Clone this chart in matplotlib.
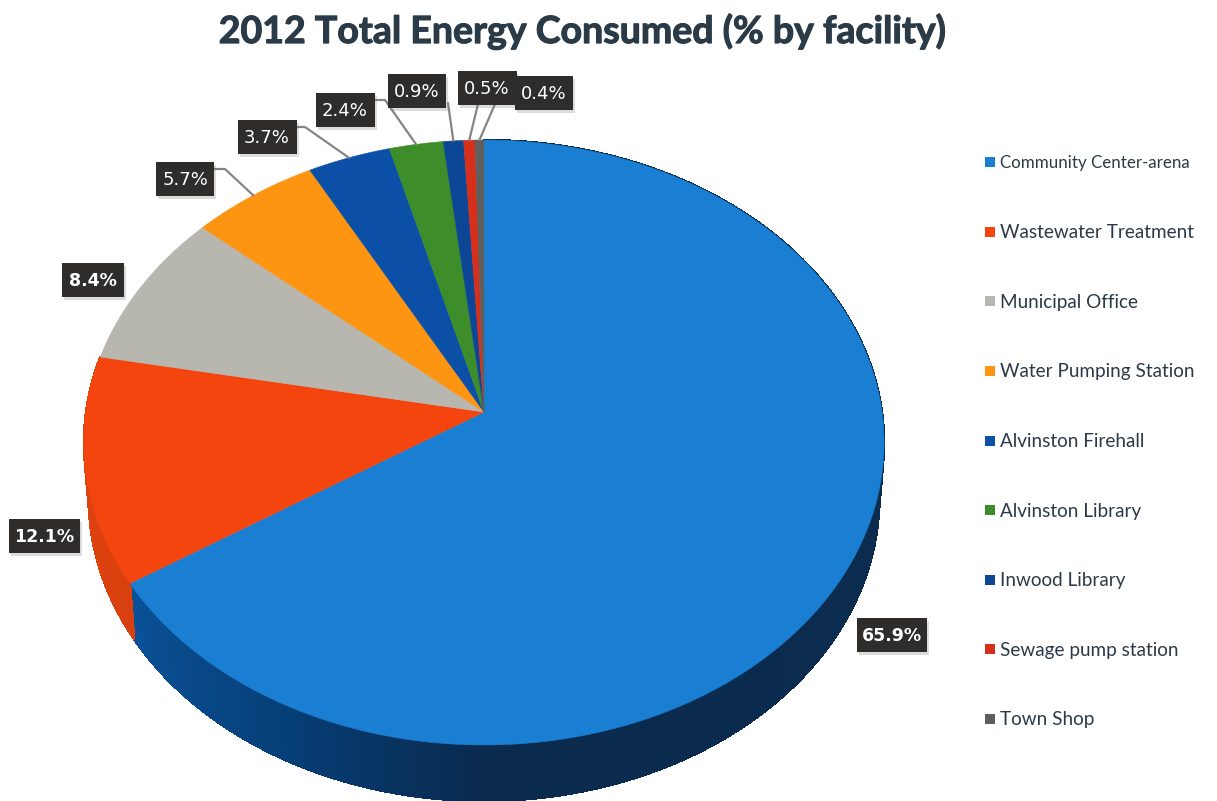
import numpy as np
import matplotlib
matplotlib.use("Agg")
import matplotlib.pyplot as plt
import matplotlib.patheffects as pe
from matplotlib.collections import PolyCollection
from matplotlib.colors import to_rgb
from matplotlib.patches import Polygon, Rectangle

facilities = [
    "Community Center-arena",
    "Wastewater Treatment",
    "Municipal Office",
    "Water Pumping Station",
    "Alvinston Firehall",
    "Alvinston Library",
    "Inwood Library",
    "Sewage pump station",
    "Town Shop",
]
shares = [65.9, 12.1, 8.4, 5.7, 3.7, 2.4, 0.9, 0.5, 0.4]
colors = ["#1A7FD2", "#F5450E", "#B7B7AF", "#FD9512", "#0B50A6",
          "#3E8D2B", "#0C4695", "#D6301A", "#5E5E5E"]

# label box centres in pixels, with the elbow of the leader line where there is one
box_centers = [(892, 635), (44, 536), (93, 280), (185, 179), (267, 137),
               (345, 110), (417, 91), (487, 88), (544, 93)]
box_widths = [70, 71, 62, 58, 59, 59, 58, 59, 58]
bold_labels = [True, True, True, False, False, False, False, False, False]
leader_paths = {
    3: [(214, 169), (225, 169)],
    4: [(297, 127), (305, 127)],
    5: [(374, 100), (385, 100)],
    6: [(448, 103)],
    7: [(478, 104)],
    8: [(495, 104)],
}
legend_sizes = [12.15, 13.6, 13.6, 13.6, 13.6, 13.6, 13.6, 13.6, 13.6]

# tilted disc: centre of the slices, axis scale and perspective strength
CX, CY = 484, 412
AX_X, AX_Y = 398, 299.4
PERSP = 0.1008
DEPTH = 56
LOWER_SCALE = 0.988


def rim(angle, scale=1.0):
    """Screen position of a rim point; angle is in degrees clockwise from the top."""
    t = np.radians(angle)
    x, y = np.sin(t), np.cos(t)
    w = 1 + PERSP * y
    return CX + scale * AX_X * x / w, CY - AX_Y * y / w


def side_color(anchors, angle):
    rgb = np.array([to_rgb(c) for _, c in anchors])
    pos = [a for a, _ in anchors]
    return tuple(np.interp(angle, pos, rgb[:, i]) for i in range(3))


side_shades = {
    0: [(90, "#0B2B4F"), (180, "#0A2A4E"), (207, "#063F78"), (237.3, "#0B5299")],
    1: [(237.3, "#D8400F"), (281, "#E2450F")],
}

fig = plt.figure(figsize=(12.17, 8.01), dpi=100)
ax = fig.add_axes([0, 0, 1, 1])
ax.set_xlim(0, 1217)
ax.set_ylim(801, 0)
ax.axis("off")

edges = np.concatenate([[0], np.cumsum(shares)]) * 3.6

# outer wall of the front slices
for i, shades in side_shades.items():
    angles = np.linspace(edges[i], edges[i + 1], 240)
    quads, quad_colors = [], []
    for a0, a1 in zip(angles[:-1], angles[1:]):
        x0, y0 = rim(a0)
        x1, y1 = rim(a1)
        x2, y2 = rim(a1, LOWER_SCALE)
        x3, y3 = rim(a0, LOWER_SCALE)
        quads.append([(x0, y0), (x1, y1), (x2, y2 + DEPTH), (x3, y3 + DEPTH)])
        quad_colors.append(side_color(shades, max(a0, 90)))
    ax.add_collection(PolyCollection(quads, facecolors=quad_colors, edgecolors=quad_colors,
                                     linewidths=1.0, antialiaseds=False, zorder=2))

# top face
for i, color in enumerate(colors):
    angles = np.linspace(edges[i], edges[i + 1], max(int(edges[i + 1] - edges[i]) * 2, 6))
    xs, ys = rim(angles)
    pts = [(CX, CY)] + list(zip(xs, ys))
    ax.add_patch(Polygon(pts, closed=True, facecolor=color, edgecolor=color,
                         linewidth=0.4, zorder=3))

# leader lines run from the slice middle on the rim to the label box
for i, path in leader_paths.items():
    end = rim((edges[i] + edges[i + 1]) / 2)
    xs, ys = zip(*(path + [end]))
    ax.plot(xs, ys, color="#858585", lw=1.6, zorder=4, solid_capstyle="round")

# value labels
for i, share in enumerate(shares):
    cx, cy = box_centers[i]
    w, h = box_widths[i], 34
    ax.add_patch(Rectangle((cx - w / 2 + 2, cy - h / 2 + 3), w, h, facecolor="#777770",
                           alpha=0.25, edgecolor="none", zorder=5))
    ax.add_patch(Rectangle((cx - w / 2, cy - h / 2), w, h, facecolor="#2E2D2B",
                           edgecolor="none", zorder=6))
    ax.text(cx, cy + 1, f"{share:.1f}%", color="white", ha="center", va="center",
            family="DejaVu Sans", fontsize=12.5 if bold_labels[i] else 13,
            fontweight="bold" if bold_labels[i] else "normal", zorder=7)

# legend
legend_y = np.linspace(162, 719, len(facilities))
for name, color, y, size in zip(facilities, colors, legend_y, legend_sizes):
    ax.scatter([990], [y], marker="s", s=62, color=color, linewidths=0, zorder=3)
    ax.text(1000, y + 1, name, color="#2B3A48", ha="left", va="center",
            family="Lato", fontsize=size)

title = ax.text(582, 31, "2012 Total Energy Consumed (% by facility)", color="#2A3A47",
                ha="center", va="center", family="Lato", fontweight="bold", fontsize=27)
title.set_path_effects([pe.withStroke(linewidth=0.8, foreground="#2A3A47")])

fig.savefig("out.png", dpi=100, facecolor="white")
